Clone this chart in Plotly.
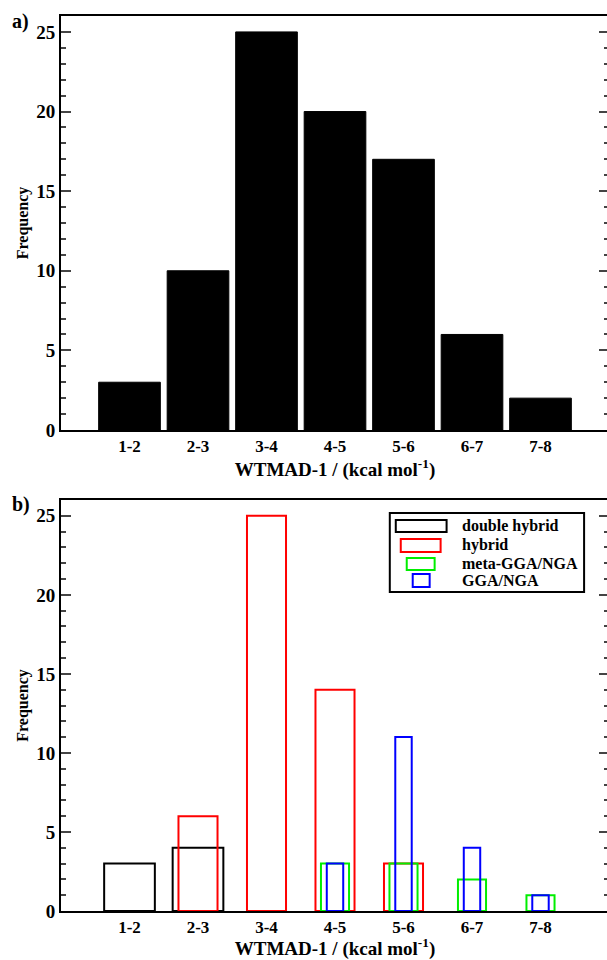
import plotly.graph_objects as go
from plotly.subplots import make_subplots

categories = ["1-2", "2-3", "3-4", "4-5", "5-6", "6-7", "7-8"]
total_counts = [3, 10, 25, 20, 17, 6, 2]
double_hybrid = [3, 4, 0, 0, 0, 0, 0]
hybrid = [0, 6, 25, 14, 3, 0, 0]
meta_gga = [0, 0, 0, 3, 3, 2, 1]
gga = [0, 0, 0, 3, 11, 4, 1]
series_names = ["double hybrid", "hybrid", "meta-GGA/NGA", "GGA/NGA"]
series_colors = ["#000000", "#ff0000", "#00ee00", "#0000ff"]
series_widths = [0.74, 0.57, 0.41, 0.24]

# the plot frame's right edge lies just beyond the 607 px window, as in the reference
W, H = 611, 960
ML, MR, MT, MB = 61, 0, 16, 49
PW, PH = W - ML - MR, H - MT - MB

def px(x):
    return (x - ML) / PW

def py(y):
    return (H - MB - y) / PH

FONT = "Liberation Serif"

fig = make_subplots(rows=2, cols=1)

fig.add_trace(go.Bar(x=categories, y=total_counts, width=0.9,
                     marker=dict(color="black", line=dict(color="black", width=1)),
                     showlegend=False), row=1, col=1)

for name, vals, col, w in zip(series_names, [double_hybrid, hybrid, meta_gga, gga],
                              series_colors, series_widths):
    xs = [c for c, v in zip(categories, vals) if v]
    ys = [v for v in vals if v]
    fig.add_trace(go.Bar(x=xs, y=ys, width=w, name=name,
                         marker=dict(color="rgba(0,0,0,0)", line=dict(color=col, width=2)),
                         showlegend=False), row=2, col=1)

fig.update_layout(
    width=W, height=H, barmode="overlay",
    margin=dict(l=ML, r=MR, t=MT, b=MB),
    paper_bgcolor="white", plot_bgcolor="white",
    font=dict(family=FONT, size=16, color="black"),
)

xcommon = dict(type="category", categoryorder="array", categoryarray=categories,
               range=[-1, 7.0], showgrid=False, zeroline=False,
               showline=True, linecolor="black", linewidth=2, mirror=True,
               ticks="", tickfont=dict(family=FONT, size=17, color="black", weight="bold"),
               title=dict(text="<b>WTMAD-1 / (kcal mol<sup>-1</sup>)</b>",
                          font=dict(family=FONT, size=19), standoff=4))
ycommon = dict(range=[0, 26], showgrid=False, zeroline=False,
               showline=True, linecolor="black", linewidth=2, mirror="ticks",
               ticks="inside", ticklen=10, tickwidth=2, dtick=5, tick0=0,
               tickfont=dict(family=FONT, size=19, color="black", weight="bold"),
               minor=dict(ticks="inside", ticklen=5, tickwidth=1.5, dtick=1, tick0=0),
               title=dict(text="<b>Frequency</b>", font=dict(family=FONT, size=16), standoff=4))

fig.update_xaxes(**xcommon)
fig.update_yaxes(**ycommon)
fig.update_layout(
    yaxis=dict(domain=[py(430), 1.0]),
    yaxis2=dict(domain=[0.0, py(500)]),
)

annotations = [
    dict(text="<b>a)</b>", x=px(10), y=py(22), xanchor="left", yanchor="middle"),
    dict(text="<b>b)</b>", x=px(10), y=py(505), xanchor="left", yanchor="middle"),
]
for a in annotations:
    a.update(xref="paper", yref="paper", showarrow=False,
             font=dict(family=FONT, size=20, color="black"))

shapes = [dict(type="rect", xref="paper", yref="paper",
               x0=px(391), x1=px(586), y0=py(592), y1=py(513),
               line=dict(color="black", width=2), fillcolor="white", layer="above")]
legend_boxes = [(397, 448, 520, 532, 526), (402, 442, 539, 552, 545),
                (408, 436, 558, 570, 563), (414, 431, 574, 587, 580)]
for (x0, x1, y0, y1, ty), name, col in zip(legend_boxes, series_names, series_colors):
    shapes.append(dict(type="rect", xref="paper", yref="paper",
                       x0=px(x0), x1=px(x1), y0=py(y1), y1=py(y0),
                       line=dict(color=col, width=2), layer="above"))
    annotations.append(dict(text="<b>" + name + "</b>", x=px(461), y=py(ty),
                            xref="paper", yref="paper", showarrow=False,
                            xanchor="left", yanchor="middle",
                            font=dict(family=FONT, size=16, color="black")))

fig.update_layout(shapes=shapes, annotations=annotations)

fig.write_html("out.html", config={"displayModeBar": False},
               post_script="document.body.style.margin='0';document.body.style.overflow='hidden';")
